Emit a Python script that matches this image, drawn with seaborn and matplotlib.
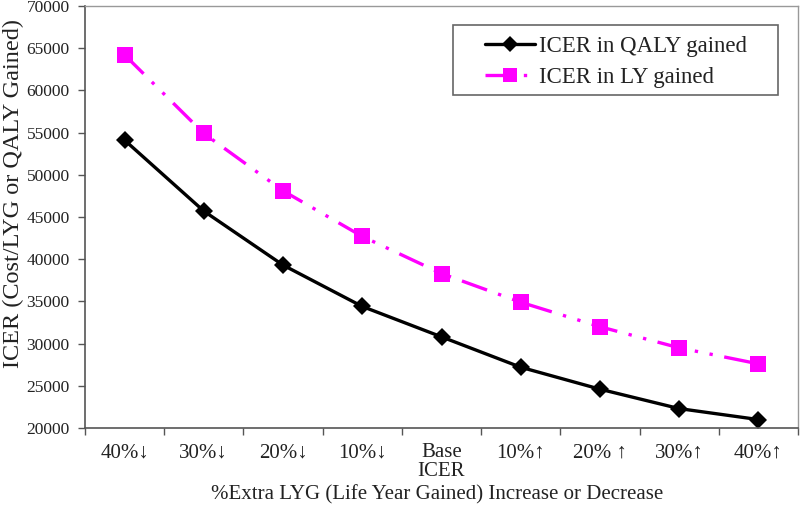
import matplotlib
matplotlib.use("Agg")
import matplotlib.pyplot as plt
import seaborn as sns
import pandas as pd
from matplotlib.lines import Line2D
from matplotlib.patches import Rectangle

categories = ["40%↓", "30%↓", "20%↓", "10%↓", "Base\nICER", "10%↑", "20% ↑", "30%↑", "40%↑"]
icer_qaly = [54100, 45700, 39300, 34400, 30800, 27200, 24600, 22300, 21000]
icer_ly = [64200, 54900, 48100, 42700, 38300, 34900, 32000, 29500, 27600]
series_names = ["ICER in QALY gained", "ICER in LY gained"]

sns.set_theme(style="white")
plt.rcParams["font.family"] = ["Liberation Serif", "DejaVu Serif"]

df = pd.DataFrame({
    "pos": list(range(len(categories))) * 2,
    "value": icer_qaly + icer_ly,
    "series": [series_names[0]] * len(categories) + [series_names[1]] * len(categories),
})

W, H = 800, 512
AX_L, AX_R, AX_T, AX_B = 85, 798, 6, 428

fig = plt.figure(figsize=(W / 100, H / 100), dpi=100)
ax = fig.add_axes([AX_L / W, (H - AX_B) / H, (AX_R - AX_L) / W, (AX_B - AX_T) / H])

def ax_xy(px, py):
    return ((px - AX_L) / (AX_R - AX_L), (AX_B - py) / (AX_B - AX_T))

pink_dash = (8, 3.5, 1, 3.5, 1, 3.5)
sns.lineplot(data=df, x="pos", y="value", hue="series", style="series",
             palette={series_names[0]: "black", series_names[1]: "#FF00FF"},
             markers={series_names[0]: "D", series_names[1]: "s"},
             dashes={series_names[0]: "", series_names[1]: pink_dash},
             linewidth=2.4, markersize=10, markeredgewidth=0, ax=ax, sort=False, legend=False)

for ln in ax.get_lines():
    if ln.get_marker() == "s":
        ln.set_markersize(11)
    else:
        ln.set_markersize(9.5)

ax.set_xlim(-0.5, len(categories) - 0.5)
ax.set_ylim(20000, 70000)
ax.set_yticks(range(20000, 70001, 5000))
ax.set_yticklabels([str(v) for v in range(20000, 70001, 5000)], fontsize=12.5, color="#222222")

ax.set_xticks([i - 0.5 for i in range(len(categories) + 1)])
ax.set_xticklabels([])
ax.set_xticks(list(range(len(categories))), minor=True)
ax.set_xticklabels(categories, minor=True, fontsize=15, color="#222222", linespacing=0.95)
ax.tick_params(axis="x", which="minor", length=0, pad=11)
ax.tick_params(axis="x", which="major", length=5, width=1, color="#555555", direction="out", bottom=True)
ax.tick_params(axis="y", length=5, width=1, color="#555555", direction="out", left=True, pad=6)

for side in ["left", "bottom"]:
    ax.spines[side].set_color("#555555")
    ax.spines[side].set_linewidth(1.2)
for side in ["top", "right"]:
    ax.spines[side].set_color("#999999")
    ax.spines[side].set_linewidth(1.0)

ax.set_xlabel("%Extra LYG (Life Year Gained) Increase or Decrease", fontsize=15, color="#222222")
ax.xaxis.set_label_coords(*ax_xy(437, 485))
ax.set_ylabel("ICER (Cost/LYG or QALY Gained)", fontsize=17.5, color="#222222")
ax.yaxis.set_label_coords(*ax_xy(24, 193))

handles = [
    Line2D([], [], color="black", marker="D", markersize=8, markeredgewidth=0, linewidth=2.4),
    Line2D([], [], color="#FF00FF", marker="s", markersize=10, markeredgewidth=0, linewidth=2.4, dashes=pink_dash),
]
leg = ax.legend(handles, series_names, loc="upper left", bbox_to_anchor=ax_xy(485, 36),
                fontsize=16.5, frameon=False, handlelength=2.2, handletextpad=0.15,
                borderpad=0, labelspacing=0.42, borderaxespad=0)
for t in leg.get_texts():
    t.set_color("#222222")

x0, y0 = ax_xy(453, 95)
x1, y1 = ax_xy(778, 25)
ax.add_patch(Rectangle((x0, y0), x1 - x0, y1 - y0, transform=ax.transAxes,
                       facecolor="white", edgecolor="#666666", linewidth=1.2, zorder=4))
leg.set_zorder(5)

fig.savefig("out.png", dpi=100)
